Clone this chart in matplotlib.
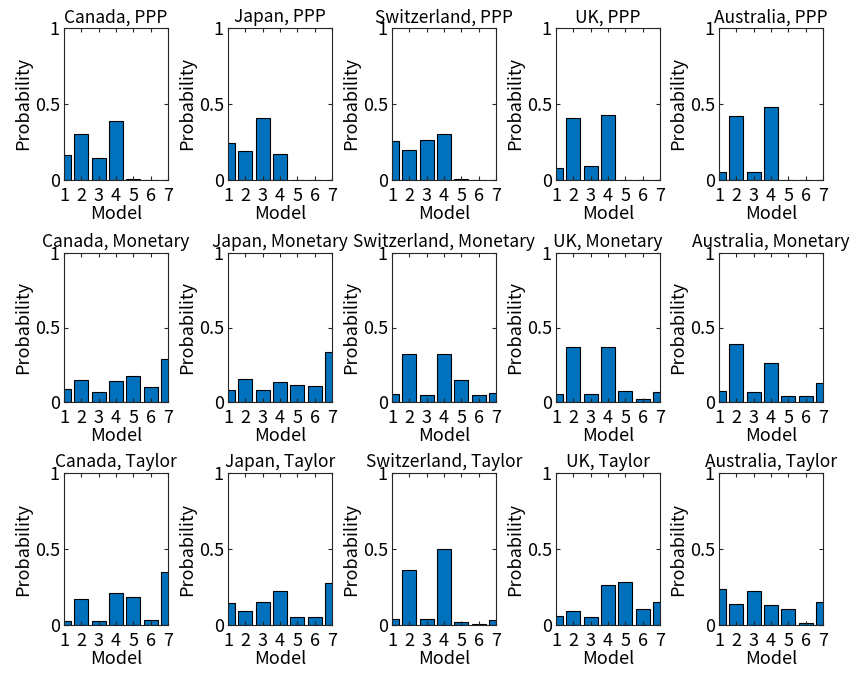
import numpy as np
import matplotlib
matplotlib.use("Agg")
import matplotlib.pyplot as plt

plt.rcParams['font.family'] = ['Noto Sans CJK JP', 'DejaVu Sans']

countries = ["Canada", "Japan", "Switzerland", "UK", "Australia"]
specs = ["PPP", "Monetary", "Taylor"]
models = [1, 2, 3, 4, 5, 6, 7]

# posterior model probabilities
ppp = {
    "Canada":      [0.166, 0.303, 0.144, 0.389, 0.005, 0.003, 0.003],
    "Japan":       [0.243, 0.190, 0.405, 0.173, 0.003, 0.003, 0.003],
    "Switzerland": [0.254, 0.195, 0.261, 0.300, 0.005, 0.002, 0.002],
    "UK":          [0.077, 0.405, 0.095, 0.429, 0.003, 0.003, 0.003],
    "Australia":   [0.051, 0.423, 0.055, 0.482, 0.002, 0.002, 0.002],
}
monetary = {
    "Canada":      [0.084, 0.149, 0.069, 0.142, 0.176, 0.098, 0.291],
    "Japan":       [0.078, 0.153, 0.080, 0.136, 0.116, 0.109, 0.336],
    "Switzerland": [0.056, 0.322, 0.049, 0.322, 0.149, 0.047, 0.062],
    "UK":          [0.056, 0.367, 0.056, 0.367, 0.076, 0.020, 0.069],
    "Australia":   [0.071, 0.389, 0.067, 0.264, 0.042, 0.042, 0.127],
}
taylor = {
    "Canada":      [0.029, 0.170, 0.027, 0.210, 0.181, 0.033, 0.350],
    "Japan":       [0.148, 0.095, 0.150, 0.223, 0.051, 0.053, 0.279],
    "Switzerland": [0.038, 0.360, 0.038, 0.502, 0.022, 0.007, 0.031],
    "UK":          [0.058, 0.093, 0.051, 0.261, 0.281, 0.108, 0.153],
    "Australia":   [0.237, 0.137, 0.226, 0.130, 0.106, 0.013, 0.150],
}
data = {"PPP": ppp, "Monetary": monetary, "Taylor": taylor}

W, H = 858, 674
fig = plt.figure(figsize=(W / 100, H / 100), dpi=100)

lefts = [64, 228, 392, 556, 719]
rows = [(28, 180), (253, 402), (473, 625)]
axw = 104

for r, spec in enumerate(specs):
    top, bot = rows[r]
    for c, country in enumerate(countries):
        ax = fig.add_axes([lefts[c] / W, 1 - bot / H, axw / W, (bot - top) / H])
        ax.bar(models, data[spec][country], width=0.8, color='#0072BD',
               edgecolor='black', linewidth=0.8)
        ax.set_xlim(1, 7)
        ax.set_ylim(0, 1)
        ax.set_xticks(models)
        ax.set_yticks([0, 0.5, 1])
        ax.set_yticklabels(["0", "0.5", "1"])
        ax.tick_params(direction='in', top=True, right=True, length=3,
                       labelsize=13, color='#262626')
        ax.tick_params(axis='x', pad=5)
        ax.tick_params(axis='y', pad=3)
        for s in ax.spines.values():
            s.set_color('#262626')
            s.set_linewidth(0.8)
        ax.set_title(f"{country}, {spec}", fontsize=12.5, pad=4)
        ax.set_xlabel("Model", fontsize=13, labelpad=0)
        ax.set_ylabel("Probability", fontsize=13, labelpad=2)

fig.savefig("out.png", dpi=100)
